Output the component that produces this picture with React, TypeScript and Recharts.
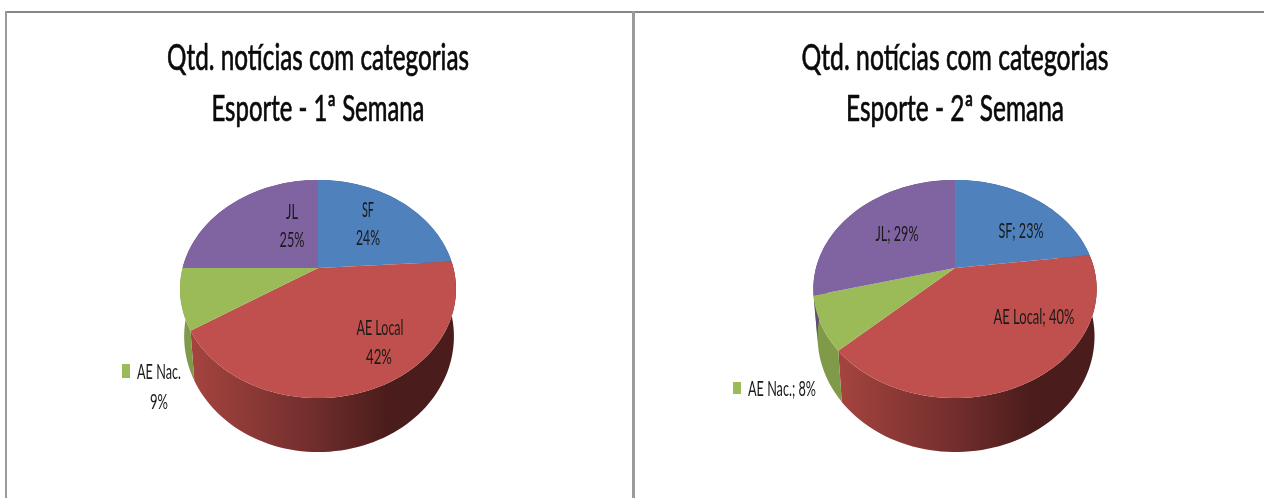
import React from 'react';
import { PieChart, Pie } from 'recharts';

const categories = ['SF', 'AE Local', 'AE Nac.', 'JL'];
const week1Values = [24, 42, 9, 25];
const week2Values = [23, 40, 8, 29];
const topColors = ['#4f81bd', '#c0504d', '#9bbb59', '#8064a2'];
const wallColors = ['#3a5f8c', 'url(#redWall)', '#7f9a48', '#5f4a78'];
const titleLine1 = 'Qtd. notícias com categorias';
const week1Title = 'Esporte - 1ª Semana';
const week2Title = 'Esporte - 2ª Semana';

// label placement relative to the pie hub: [dx, dy, width] per text line
const week1Labels = [
  [[50, -58, 12], [50, -30, 24]],
  [[62, 60, 47], [61, 89, 26]],
  [[-159, 104, 44], [-159, 134, 18]],
  [[-26, -56, 12], [-26, -28, 25]],
];
const week2Labels = [
  [[66, -37, 45]],
  [[79, 49, 81]],
  [[-173, 121, 68]],
  [[-58, -34, 43]],
];
const week1Keys = { x: -196, y: 96, w: 8, h: 14 };
const week2Keys = { x: -222, y: 114, w: 8, h: 12 };

// the disc is seen in perspective, so the hub sits above the centre of its ellipse
const TILT = 0.1927;
const DEPTH = 105;
const project = (cx: number, cy: number, r: number, deg: number) => {
  const rad = (deg * Math.PI) / 180;
  const X = Math.cos(rad);
  const Y = Math.sin(rad);
  const w = 1 + TILT * Y;
  return [cx + (r * X) / w, cy - (DEPTH * Y) / w];
};
// lower rim of the wall: pulled in more on the left than on the right
const lower = (cx: number, cy: number, p: number[]) => [
  cx + (p[0] - cx) * (p[0] < cx ? 0.97 : 0.985),
  cy + 46.2 + (p[1] - cy) * 1.06,
];
const arcPoints = (props: any) => {
  const { cx, cy, outerRadius, startAngle, endAngle } = props;
  const steps = Math.max(2, Math.ceil(Math.abs(endAngle - startAngle) / 2));
  const pts: number[][] = [];
  for (let i = 0; i <= steps; i++) {
    pts.push(project(cx, cy, outerRadius, startAngle + ((endAngle - startAngle) * i) / steps));
  }
  return pts;
};
const toPath = (pts: number[][]) =>
  'M' + pts.map((p) => `${p[0].toFixed(2)},${p[1].toFixed(2)}`).join('L') + 'Z';

const TopFace = (props: any) => (
  <path d={toPath([[props.cx, props.cy], ...arcPoints(props)])} fill={props.fill} stroke="none" />
);

const SideWall = (props: any) => {
  const top = arcPoints(props);
  const bottom = top.map((p) => lower(props.cx, props.cy, p)).reverse();
  return <path d={toPath([...top, ...bottom])} fill={props.fill} stroke="none" />;
};

const renderLabel = (lines: number[][][], sep: boolean, key: any) => (props: any) => {
  const { cx, cy, name, value, index } = props;
  const texts = sep ? [`${name}; ${value}%`] : [name, `${value}%`];
  return (
    <g key={index}>
      {name === 'AE Nac.' && (
        <rect x={cx + key.x} y={cy + key.y} width={key.w} height={key.h} fill={topColors[2]} />
      )}
      {texts.map((t: string, i: number) => (
        <text
          key={i}
          x={cx + lines[index][i][0]}
          y={cy + lines[index][i][1]}
          dy={7}
          textAnchor="middle"
          textLength={lines[index][i][2]}
          lengthAdjust="spacingAndGlyphs"
          fontFamily="Lato, 'Open Sans', sans-serif"
          fontSize={21}
          fill="#1a1a1a"
          style={{ filter: 'blur(0.4px)' }}
        >
          {t}
        </text>
      ))}
    </g>
  );
};

const buildRows = (values: number[], colors: string[]) =>
  categories.map((name, i) => ({ name, value: values[i], fill: colors[i] }));

const titleStyle = {
  fontFamily: "Lato, 'Open Sans', sans-serif",
  fontSize: 36,
  fill: '#0a0a0a',
  stroke: '#0a0a0a',
  strokeWidth: 0.7,
  textAnchor: 'middle' as const,
  style: { filter: 'blur(0.4px)' },
};

const WeekPie = ({ left, hubX, radius, values, title, w1, w2, lines, sep, legendKey }: any) => (
  <div style={{ position: 'absolute', left, top: 0 }}>
    <PieChart width={632} height={498} margin={{ top: 0, right: 0, bottom: 0, left: 0 }}>
      <defs>
        <linearGradient id="redWall" x1="0" y1="0" x2="1" y2="0">
          <stop offset="0" stopColor="#a5443f" />
          <stop offset="0.45" stopColor="#722e2d" />
          <stop offset="0.75" stopColor="#4a1c1b" />
          <stop offset="1" stopColor="#4a1c1b" />
        </linearGradient>
      </defs>
      <text x={hubX} y={70} textLength={w1} lengthAdjust="spacingAndGlyphs" {...titleStyle}>
        {titleLine1}
      </text>
      <text x={hubX} y={121} textLength={w2} lengthAdjust="spacingAndGlyphs" {...titleStyle}>
        {title}
      </text>
      <Pie
        data={buildRows(values, wallColors)}
        dataKey="value"
        nameKey="name"
        cx={hubX}
        cy={268}
        outerRadius={radius}
        startAngle={90}
        endAngle={-270}
        shape={SideWall}
        label={false}
        labelLine={false}
        stroke="none"
        isAnimationActive={false}
      />
      <Pie
        data={buildRows(values, topColors)}
        dataKey="value"
        nameKey="name"
        cx={hubX}
        cy={268}
        outerRadius={radius}
        startAngle={90}
        endAngle={-270}
        shape={TopFace}
        label={renderLabel(lines, sep, legendKey)}
        labelLine={false}
        stroke="none"
        isAnimationActive={false}
      />
    </PieChart>
  </div>
);

export default function App() {
  return (
    <div style={{ position: 'absolute', left: 0, top: 0, width: 1264, height: 498, overflow: 'hidden', background: '#fff' }}>
      <WeekPie left={0} hubX={318} radius={135.4} values={week1Values} title={week1Title} w1={302} w2={213} lines={week1Labels} sep={false} legendKey={week1Keys} />
      <WeekPie left={632} hubX={323} radius={139} values={week2Values} title={week2Title} w1={307} w2={218} lines={week2Labels} sep={true} legendKey={week2Keys} />
      <div style={{ position: 'absolute', left: 5, top: 11, width: 1259, height: 2, background: '#868686' }} />
      <div style={{ position: 'absolute', left: 5, top: 11, width: 2, height: 487, background: '#9a9a9a' }} />
      <div style={{ position: 'absolute', left: 632, top: 11, width: 3, height: 487, background: '#9a9a9a' }} />
    </div>
  );
}
